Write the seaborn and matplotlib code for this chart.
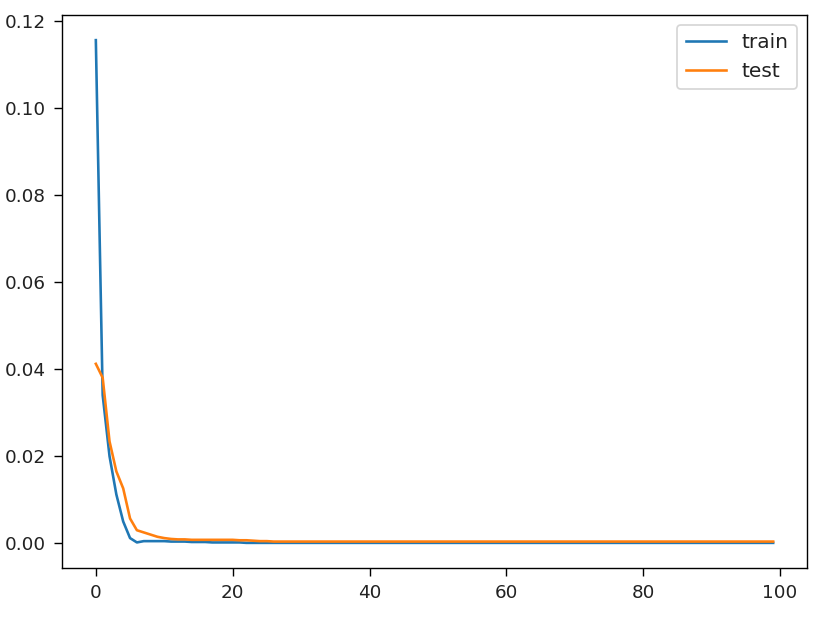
import numpy as np
import pandas as pd
import matplotlib
matplotlib.use("Agg")
import matplotlib.pyplot as plt
import seaborn as sns

# loss per epoch
epochs = list(range(100))
train_loss = [
    0.1155, 0.0340, 0.0200, 0.0112, 0.0050, 0.0012, 0.0002, 0.0005, 0.0005, 0.0005,
    0.0005, 0.0004, 0.0004, 0.0004, 0.0003, 0.0003, 0.0003, 0.0002, 0.0002, 0.0002,
    0.0002, 0.0002, 0.0001, 0.0001, 0.0001, 0.0001, 0.0001, 0.0001, 0.0001, 0.0001,
] + [0.0001] * 70
test_loss = [
    0.0412, 0.0380, 0.0234, 0.0165, 0.0126, 0.0057, 0.0030, 0.0025, 0.0020, 0.0015,
    0.0012, 0.0010, 0.0009, 0.0009, 0.0008, 0.0008, 0.0008, 0.0008, 0.0008, 0.0008,
    0.0008, 0.0007, 0.0007, 0.0006, 0.0005, 0.0005, 0.0004, 0.0004, 0.0004, 0.0004,
] + [0.0004] * 70

df = pd.DataFrame({"epoch": epochs + epochs,
                   "loss": train_loss + test_loss,
                   "set": ["train"] * 100 + ["test"] * 100})

fig, ax = plt.subplots(figsize=(823 / 125, 617 / 125), dpi=125)
fig.subplots_adjust(left=0.0753, right=0.9806, top=0.9757, bottom=0.0794)

sns.lineplot(data=df, x="epoch", y="loss", hue="set",
             palette=["#1f77b4", "#ff7f0e"], linewidth=1.5, ax=ax)
ax.set_xlabel("")
ax.set_ylabel("")
ax.set_yticks([0.0, 0.02, 0.04, 0.06, 0.08, 0.10, 0.12])
ax.set_xticks([0, 20, 40, 60, 80, 100])
ax.tick_params(labelsize=10.6, length=4.6, pad=4.6, labelcolor="#222222")
leg = ax.legend(loc="upper right", fontsize=11.6)
for t in leg.get_texts():
    t.set_color("#222222")

fig.savefig("out.png", dpi=125)
